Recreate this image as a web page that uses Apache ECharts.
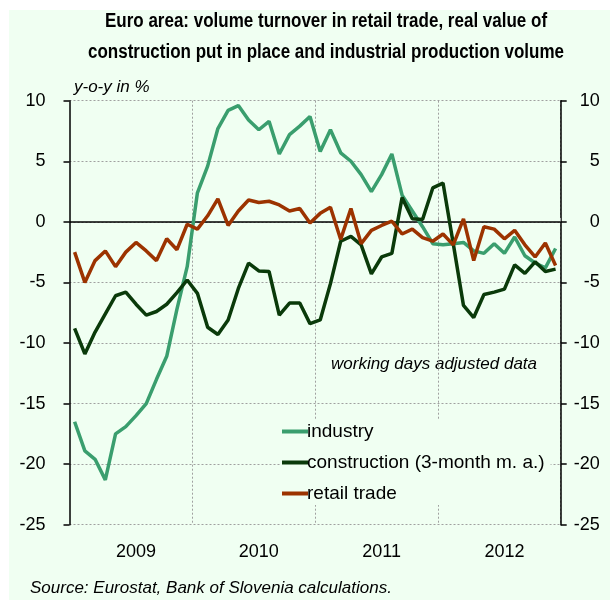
<!DOCTYPE html>
<html>
<head>
<meta charset="utf-8">
<script src="https://cdn.jsdelivr.net/npm/echarts@6/dist/echarts.min.js"></script>
<style>
  html, body { margin: 0; padding: 0; background: #fff; }
  #chart { width: 610px; height: 600px; }
</style>
</head>
<body>
<div id="chart"></div>
<script>
// monthly, Jan 2009 - Dec 2012
var years = ['2009', '2010', '2011', '2012']
var months = []
years.forEach(function (y) {
  for (var m = 1; m <= 12; m++) months.push(y + '-' + (m < 10 ? '0' + m : m))
})

var industry = [
  -16.5, -18.9, -19.6, -21.3, -17.5, -16.9, -16.0, -15.0, -13.0, -11.1, -7.2, -3.7,
  2.4, 4.6, 7.7, 9.2, 9.6, 8.4, 7.6, 8.3, 5.6, 7.2, 7.9, 8.7,
  5.8, 7.6, 5.7, 5.0, 3.9, 2.5, 3.9, 5.6, 2.2, 0.9, -0.4, -1.8,
  -1.9, -1.8, -1.7, -2.4, -2.6, -1.8, -2.6, -1.25, -2.8, -3.4, -3.8, -2.2
]
var construction = [
  -8.8, -10.9, -9.1, -7.6, -6.1, -5.8, -6.8, -7.7, -7.4, -6.8, -5.85, -4.8,
  -5.9, -8.7, -9.3, -8.1, -5.5, -3.4, -4.05, -4.1, -7.7, -6.7, -6.7, -8.4,
  -8.1, -5.1, -1.6, -1.2, -1.9, -4.3, -2.9, -2.6, 2.0, 0.25, 0.2, 2.8,
  3.2, -1.8, -6.9, -7.9, -6.0, -5.8, -5.55, -3.55, -4.25, -3.3, -4.1, -3.9
]
var retail = [
  -2.5, -5.0, -3.2, -2.4, -3.7, -2.5, -1.7, -2.4, -3.2, -1.4, -2.3, -0.2,
  -0.6, 0.5, 1.9, -0.3, 0.9, 1.8, 1.6, 1.7, 1.4, 0.9, 1.1, -0.1,
  0.7, 1.2, -1.45, 1.1, -1.8, -0.7, -0.3, 0.05, -1.0, -0.6, -1.3, -1.6,
  -1.0, -1.9, 0.25, -3.2, -0.4, -0.6, -1.4, -0.7, -1.9, -2.9, -1.75, -3.6
]

var FONT = "'Liberation Sans', Arial, sans-serif"
var gridDot = { color: '#a0a0a0', type: [2, 2], width: 1 }

var chart = echarts.init(document.getElementById('chart'))
chart.setOption({
  animation: false,
  textStyle: { fontFamily: FONT },
  graphic: [
    { type: 'rect', z: -10, shape: { x: 9, y: 10, width: 601, height: 590 }, style: { fill: '#f0fff2' } },
    {
      type: 'text', x: 326, y: 6, scaleX: 0.85, z: 10,
      style: {
        x: 0, y: 0,
        text: 'Euro area: volume turnover in retail trade, real value of\nconstruction put in place and industrial production volume',
        font: 'bold 20px ' + FONT, fill: '#000', align: 'center', verticalAlign: 'top', lineHeight: 31
      }
    },
    { type: 'text', x: 74, y: 79, style: { text: 'y-o-y in %', font: 'italic 17px ' + FONT, fill: '#000' } },
    { type: 'text', x: 331, y: 356, style: { text: 'working days adjusted data', font: 'italic 17px ' + FONT, fill: '#000' } },
    { type: 'text', x: 30, y: 580, style: { text: 'Source: Eurostat, Bank of Slovenia calculations.', font: 'italic 17px ' + FONT, fill: '#000' } }
  ],
  grid: { left: 69.5, right: 49.3, top: 100.7, bottom: 75.3 },
  legend: {
    orient: 'vertical', left: 280, top: 420, itemGap: 12,
    itemWidth: 26, itemHeight: 4, icon: 'rect',
    backgroundColor: '#f0fff2', padding: [2, 6, 2, 2],
    textStyle: { fontFamily: FONT, fontSize: 19, color: '#000', padding: [0, 0, 0, -6] },
    data: ['industry', 'construction (3-month m. a.)', 'retail trade']
  },
  xAxis: {
    type: 'category', data: months, boundaryGap: true,
    axisLine: { show: false },
    axisTick: { show: true, inside: true, length: 4, interval: function (i) { return i % 12 === 0 && i > 0 }, lineStyle: { color: '#a0a0a0' } },
    axisLabel: {
      interval: function (i) { return i % 12 === 6 }, margin: 18,
      formatter: function (v) { return v.slice(0, 4) },
      fontFamily: FONT, fontSize: 18, color: '#000'
    },
    splitLine: { show: true, interval: function (i) { return i % 12 === 0 && i > 0 }, lineStyle: gridDot }
  },
  yAxis: [
    {
      type: 'value', min: -25, max: 10, interval: 5, position: 'left',
      axisLine: { show: true, lineStyle: { color: '#000', width: 1.5 } },
      axisTick: { show: true, length: 6, lineStyle: { color: '#000', width: 1.5 } },
      axisLabel: { margin: 24, fontFamily: FONT, fontSize: 18, color: '#000' },
      splitLine: { show: true, lineStyle: gridDot }
    },
    {
      type: 'value', min: -25, max: 10, interval: 5, position: 'right',
      axisLine: { show: true, lineStyle: { color: '#000', width: 1.5 } },
      axisTick: { show: true, length: 6, lineStyle: { color: '#000', width: 1.5 } },
      axisLabel: { margin: 39, align: 'right', fontFamily: FONT, fontSize: 18, color: '#000' },
      splitLine: { show: false }
    }
  ],
  series: [
    {
      name: 'industry', type: 'line', data: industry, symbol: 'none', z: 3,
      color: '#3a9e6e', lineStyle: { width: 3.5, color: '#3a9e6e' },
      markLine: {
        silent: true, symbol: 'none', label: { show: false },
        lineStyle: { color: '#000', type: 'solid', width: 1.5 },
        data: [{ yAxis: 0 }], z: 1
      }
    },
    {
      name: 'construction (3-month m. a.)', type: 'line', data: construction, symbol: 'none', z: 4,
      color: '#0a3a0a', lineStyle: { width: 3.5, color: '#0a3a0a' }
    },
    {
      name: 'retail trade', type: 'line', data: retail, symbol: 'none', z: 5,
      color: '#9c3300', lineStyle: { width: 3.5, color: '#9c3300' }
    }
  ]
})
</script>
</body>
</html>
